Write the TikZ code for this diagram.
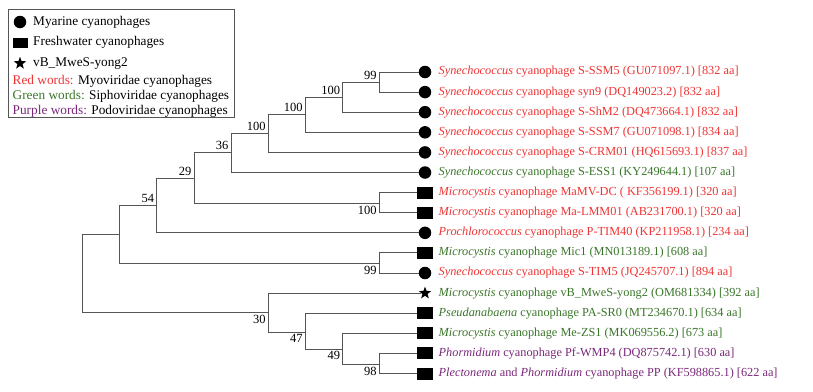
\documentclass[tikz,border=0pt]{standalone}
\usepackage{fontspec}
\setmainfont{Liberation Serif}
\usepackage{xcolor}
\usetikzlibrary{shapes.geometric, positioning}
\definecolor{myored}{RGB}{238,52,52}
\definecolor{sipgreen}{RGB}{58,118,42}
\definecolor{podpurple}{RGB}{122,40,122}
\definecolor{treegray}{RGB}{85,85,85}

\begin{document}
\begin{tikzpicture}[x=1pt, y=-1pt, font=\fontsize{12.3}{14}\selectfont,
    branch/.style={draw=treegray, line width=0.9pt},
    circ/.style={circle, fill=black, inner sep=0pt, minimum size=12.5pt},
    sq/.style={rectangle, fill=black, inner sep=0pt, minimum width=16pt, minimum height=12pt},
    starmark/.style={star, star points=5, star point ratio=2.4, fill=black, inner sep=0pt, minimum size=13pt},
    leaf/.style={inner sep=0pt, anchor=west},
    legtext/.style={inner sep=0pt, anchor=west, font=\fontsize{13.3}{15}\selectfont},
    boot/.style={inner sep=2.5pt, font=\fontsize{12.5}{14}\selectfont}]
    \useasboundingbox (0,0) rectangle (813,391);

    % legend
    \node[draw=treegray, line width=0.8pt, minimum width=226pt, minimum height=108pt, anchor=north west] (legend) at (8,9.3) {};
    \node[circ] (lgc) at (20,22) {};
    \node[legtext, right=13pt of lgc.center] (lgctext) {Myarine cyanophages};
    \node[sq, minimum width=15pt, minimum height=10pt] (lgs) at (20,42.7) {};
    \node[legtext, right=13pt of lgs.center] (lgstext) {Freshwater cyanophages};
    \node[starmark] (lgst) at (20,63.3) {};
    \node[legtext, right=13pt of lgst.center] (lgsttext) {vB\_MweS-yong2};
    \node[legtext] (lgred) at (12.5,81) {\textcolor{myored}{Red words:} Myoviridae cyanophages};
    \node[legtext] (lggreen) at (12.5,96) {\textcolor{sipgreen}{Green words:} Siphoviridae cyanophages};
    \node[legtext] (lgpurple) at (12.5,111) {\textcolor{podpurple}{Purple words:} Podoviridae cyanophages};

    % leaves
    \node[circ] (m1) at (425,72) {};
    \node[leaf, myored, right=13.5pt of m1.center] (t1) {\textit{Synechococcus} cyanophage S-SSM5 (GU071097.1) [832 aa]};
    \node[circ] (m2) at (425,92.1) {};
    \node[leaf, myored, right=13.5pt of m2.center] (t2) {\textit{Synechococcus} cyanophage syn9 (DQ149023.2) [832 aa]};
    \node[circ] (m3) at (425,112.2) {};
    \node[leaf, myored, right=13.5pt of m3.center] (t3) {\textit{Synechococcus} cyanophage S-ShM2 (DQ473664.1) [832 aa]};
    \node[circ] (m4) at (425,132.3) {};
    \node[leaf, myored, right=13.5pt of m4.center] (t4) {\textit{Synechococcus} cyanophage S-SSM7 (GU071098.1) [834 aa]};
    \node[circ] (m5) at (425,152.4) {};
    \node[leaf, myored, right=13.5pt of m5.center] (t5) {\textit{Synechococcus} cyanophage S-CRM01 (HQ615693.1) [837 aa]};
    \node[circ] (m6) at (425,172.5) {};
    \node[leaf, sipgreen, right=13.5pt of m6.center] (t6) {\textit{Synechococcus} cyanophage S-ESS1 (KY249644.1) [107 aa]};
    \node[sq] (m7) at (425,192.6) {};
    \node[leaf, myored, right=13.5pt of m7.center] (t7) {\textit{Microcystis} cyanophage MaMV-DC ( KF356199.1) [320 aa]};
    \node[sq] (m8) at (425,212.7) {};
    \node[leaf, myored, right=13.5pt of m8.center] (t8) {\textit{Microcystis} cyanophage Ma-LMM01 (AB231700.1) [320 aa]};
    \node[circ] (m9) at (425,232.8) {};
    \node[leaf, myored, right=13.5pt of m9.center] (t9) {\textit{Prochlorococcus} cyanophage P-TIM40 (KP211958.1) [234 aa]};
    \node[sq] (m10) at (425,252.9) {};
    \node[leaf, sipgreen, right=13.5pt of m10.center] (t10) {\textit{Microcystis} cyanophage Mic1 (MN013189.1) [608 aa]};
    \node[circ] (m11) at (425,273) {};
    \node[leaf, myored, right=13.5pt of m11.center] (t11) {\textit{Synechococcus} cyanophage S-TIM5 (JQ245707.1) [894 aa]};
    \node[starmark] (m12) at (425,293.1) {};
    \node[leaf, sipgreen, right=13.5pt of m12.center] (t12) {\textit{Microcystis} cyanophage vB\_MweS-yong2 (OM681334) [392 aa]};
    \node[sq] (m13) at (425,313.2) {};
    \node[leaf, sipgreen, right=13.5pt of m13.center] (t13) {\textit{Pseudanabaena} cyanophage PA-SR0 (MT234670.1) [634 aa]};
    \node[sq] (m14) at (425,333.3) {};
    \node[leaf, sipgreen, right=13.5pt of m14.center] (t14) {\textit{Microcystis} cyanophage Me-ZS1 (MK069556.2) [673 aa]};
    \node[sq] (m15) at (425,353.4) {};
    \node[leaf, podpurple, right=13.5pt of m15.center] (t15) {\textit{Phormidium} cyanophage Pf-WMP4 (DQ875742.1) [630 aa]};
    \node[sq] (m16) at (425,373.5) {};
    \node[leaf, podpurple, right=13.5pt of m16.center] (t16) {\textit{Plectonema} and \textit{Phormidium} cyanophage PP (KF598865.1) [622 aa]};

    % internal nodes
    \coordinate (nA) at (379.3,82);
    \coordinate (nB) at (342.7,97.3);
    \coordinate (nC) at (305.3,114.3);
    \coordinate (nD) at (268.3,133.3);
    \coordinate (nE) at (231,152.3);
    \coordinate (nF) at (379.3,203.3);
    \coordinate (nG) at (194,178.3);
    \coordinate (nH) at (156.7,205.3);
    \coordinate (nI) at (379.3,263.3);
    \coordinate (nJ) at (119.3,234);
    \coordinate (nK) at (82.7,273);
    \coordinate (nL) at (268.3,312.3);
    \coordinate (nM) at (305.3,332);
    \coordinate (nN) at (342.7,349);
    \coordinate (nO) at (379.3,364.3);

    % branches
    \draw[branch] (nA) |- (m1.west) (nA) |- (m2.west);
    \draw[branch] (nB) |- (nA) (nB) |- (m3.west);
    \draw[branch] (nC) |- (nB) (nC) |- (m4.west);
    \draw[branch] (nD) |- (nC) (nD) |- (m5.west);
    \draw[branch] (nE) |- (nD) (nE) |- (m6.west);
    \draw[branch] (nF) |- (m7.west) (nF) |- (m8.west);
    \draw[branch] (nG) |- (nE) (nG) |- (nF);
    \draw[branch] (nH) |- (nG) (nH) |- (m9.west);
    \draw[branch] (nI) |- (m10.west) (nI) |- (m11.west);
    \draw[branch] (nJ) |- (nH) (nJ) |- (nI);
    \draw[branch] (nK) |- (nJ) (nK) |- (nL);
    \draw[branch] (nO) |- (m15.west) (nO) |- (m16.west);
    \draw[branch] (nN) |- (m14.west) (nN) |- (nO);
    \draw[branch] (nM) |- (m13.west) (nM) |- (nN);
    \draw[branch] (nL) |- (m12.west) (nL) |- (nM);

    % bootstrap values
    \node[boot, anchor=south east] at (nA) {99};
    \node[boot, anchor=south east] at (nB) {100};
    \node[boot, anchor=south east] at (nC) {100};
    \node[boot, anchor=south east] at (nD) {100};
    \node[boot, anchor=south east] at (nE) {36};
    \node[boot, anchor=south east] at (nG) {29};
    \node[boot, anchor=south east] at (nH) {54};
    \node[boot, anchor=north east] at (nF) {100};
    \node[boot, anchor=north east] at (nI) {99};
    \node[boot, anchor=north east] at (nL) {30};
    \node[boot, anchor=north east] at (nM) {47};
    \node[boot, anchor=north east] at (nN) {49};
    \node[boot, anchor=north east] at (nO) {98};
\end{tikzpicture}
\end{document}
